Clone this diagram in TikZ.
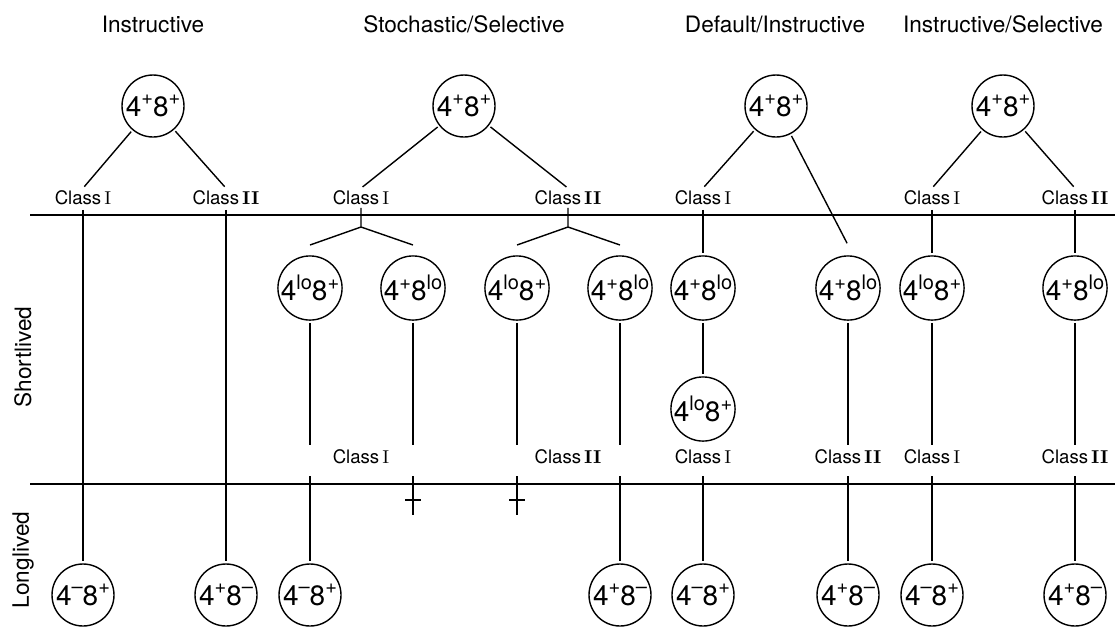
\documentclass[tikz,border=0pt]{standalone}
\usepackage{fontspec}
\setsansfont{TeX Gyre Heros}
\usetikzlibrary{positioning,calc}
\newcommand{\clsI}{Class\,\textrm{I}}
\newcommand{\clsII}{Class\,\textrm{\bfseries II}}
\newcommand{\sups}[1]{\raisebox{0.42em}{\fontsize{10}{10}\selectfont #1}}
\newcommand{\cd}[4]{#1\sups{#2}#3\sups{#4}}
\begin{document}
\begin{tikzpicture}[x=0.5pt, y=-0.5pt, line width=0.7pt,
    cell/.style={circle, draw, minimum size=31pt, inner sep=0pt, font=\sffamily\fontsize{14}{14}\selectfont},
    cls/.style={font=\sffamily\fontsize{9.3}{10}\selectfont, inner sep=1pt},
    head/.style={font=\sffamily\fontsize{11.3}{13}\selectfont},
    link/.style={shorten <=1pt, shorten >=1pt},
    kill/.style={line width=1.4pt}]
  \useasboundingbox (0,0) rectangle (1115,628);
  \node[head] (h1) at (153,24) {Instructive};
  \node[head] (h2) at (464,24) {Stochastic/Selective};
  \node[head] (h3) at (775,24) {Default/Instructive};
  \node[head] (h4) at (1003,24) {Instructive/Selective};
  \node[head, rotate=90] (sl) at (23,357) {Shortlived};
  \node[head, rotate=90] (ll) at (23,560) {Longlived};
  \draw (30,215) -- (1115,215);
  \draw (30,484) -- (1115,484);
  \coordinate (up) at (0,445);
  \coordinate (dn) at (0,476);
  \coordinate (cut) at (0,515);
  \coordinate (tick) at (0,500);
  % top row
  \node[cell] (t1) at (153,106) {\cd{4}{+}{8}{+}};
  \node[cell] (t2) at (464,106) {\cd{4}{+}{8}{+}};
  \node[cell] (t3) at (776,106) {\cd{4}{+}{8}{+}};
  \node[cell] (t4) at (1003,106) {\cd{4}{+}{8}{+}};
  \node[cls] (a1) at (83,198) {\clsI};
  \node[cls] (a2) at (226,198) {\clsII};
  \node[cls] (a3) at (361,198) {\clsI};
  \node[cls] (a4) at (568,198) {\clsII};
  \node[cls] (a5) at (703,198) {\clsI};
  \node[cls] (a6) at (932,198) {\clsI};
  \node[cls] (a7) at (1075,198) {\clsII};
  % middle row
  \node[cell] (m1) at (310,288) {\cd{4}{lo}{8}{+}};
  \node[cell] (m2) at (413,288) {\cd{4}{+}{8}{lo}};
  \node[cell] (m3) at (517,288) {\cd{4}{lo}{8}{+}};
  \node[cell] (m4) at (620,288) {\cd{4}{+}{8}{lo}};
  \node[cell] (m5) at (703,288) {\cd{4}{+}{8}{lo}};
  \node[cell] (m6) at (848,288) {\cd{4}{+}{8}{lo}};
  \node[cell] (m7) at (932,288) {\cd{4}{lo}{8}{+}};
  \node[cell] (m8) at (1075,288) {\cd{4}{+}{8}{lo}};
  \node[cell] (m9) at (703,409) {\cd{4}{lo}{8}{+}};
  \node[cls] (b1) at (361,457) {\clsI};
  \node[cls] (b2) at (568,457) {\clsII};
  \node[cls] (b3) at (703,457) {\clsI};
  \node[cls] (b4) at (848,457) {\clsII};
  \node[cls] (b5) at (932,457) {\clsI};
  \node[cls] (b6) at (1075,457) {\clsII};
  % bottom row
  \node[cell] (e1) at (83,595) {\cd{4}{\textendash}{8}{+}};
  \node[cell] (e2) at (226,595) {\cd{4}{+}{8}{\textendash}};
  \node[cell] (e3) at (310,595) {\cd{4}{\textendash}{8}{+}};
  \node[cell] (e4) at (620,595) {\cd{4}{+}{8}{\textendash}};
  \node[cell] (e5) at (703,595) {\cd{4}{\textendash}{8}{+}};
  \node[cell] (e6) at (848,595) {\cd{4}{+}{8}{\textendash}};
  \node[cell] (e7) at (932,595) {\cd{4}{\textendash}{8}{+}};
  \node[cell] (e8) at (1075,595) {\cd{4}{+}{8}{\textendash}};
  \coordinate (j1) at (361,227);
  \coordinate (j1a) at (310,245);
  \coordinate (j1b) at (413,245);
  \coordinate (j2) at (568,227);
  \coordinate (j2a) at (517,245);
  \coordinate (j2b) at (620,245);
  \coordinate (d3) at (848,245);
  % connectors
  \draw[link] (t1) -- (a1.north);
  \draw[link] (t1) -- (a2.north);
  \draw[link] (t2) -- (a3.north);
  \draw[link] (t2) -- (a4.north);
  \draw[link] (t3) -- (a5.north);
  \draw[link] (t3) -- (d3);
  \draw[link] (t4) -- (a6.north);
  \draw[link] (t4) -- (a7.north);
  \draw[link] (a1.south) -- (e1);
  \draw[link] (a2.south) -- (e2);
  \draw (a3.south) -- (j1) -- (j1a) (j1) -- (j1b);
  \draw (a4.south) -- (j2) -- (j2a) (j2) -- (j2b);
  \draw[link] (a5.south) -- (m5);
  \draw[link] (m5) -- (m9);
  \draw[link] (a6.south) -- (m7);
  \draw[link] (a7.south) -- (m8);
  \foreach \m in {m1,m2,m3,m4,m6,m7,m8}
    \draw[shorten <=1pt] (\m) -- (\m |- up);
  \draw[shorten >=1pt] (m1 |- dn) -- (e3);
  \draw[shorten >=1pt] (m4 |- dn) -- (e4);
  \draw[shorten >=1pt] (b3 |- dn) -- (e5);
  \draw[shorten >=1pt] (b4 |- dn) -- (e6);
  \draw[shorten >=1pt] (b5 |- dn) -- (e7);
  \draw[shorten >=1pt] (b6 |- dn) -- (e8);
  \foreach \m in {m2,m3} {
    \draw[kill] (\m |- dn) -- (\m |- cut);
    \draw[kill] ($(\m |- tick)+(-8,0)$) -- ($(\m |- tick)+(8,0)$);
  }
\end{tikzpicture}
\end{document}
